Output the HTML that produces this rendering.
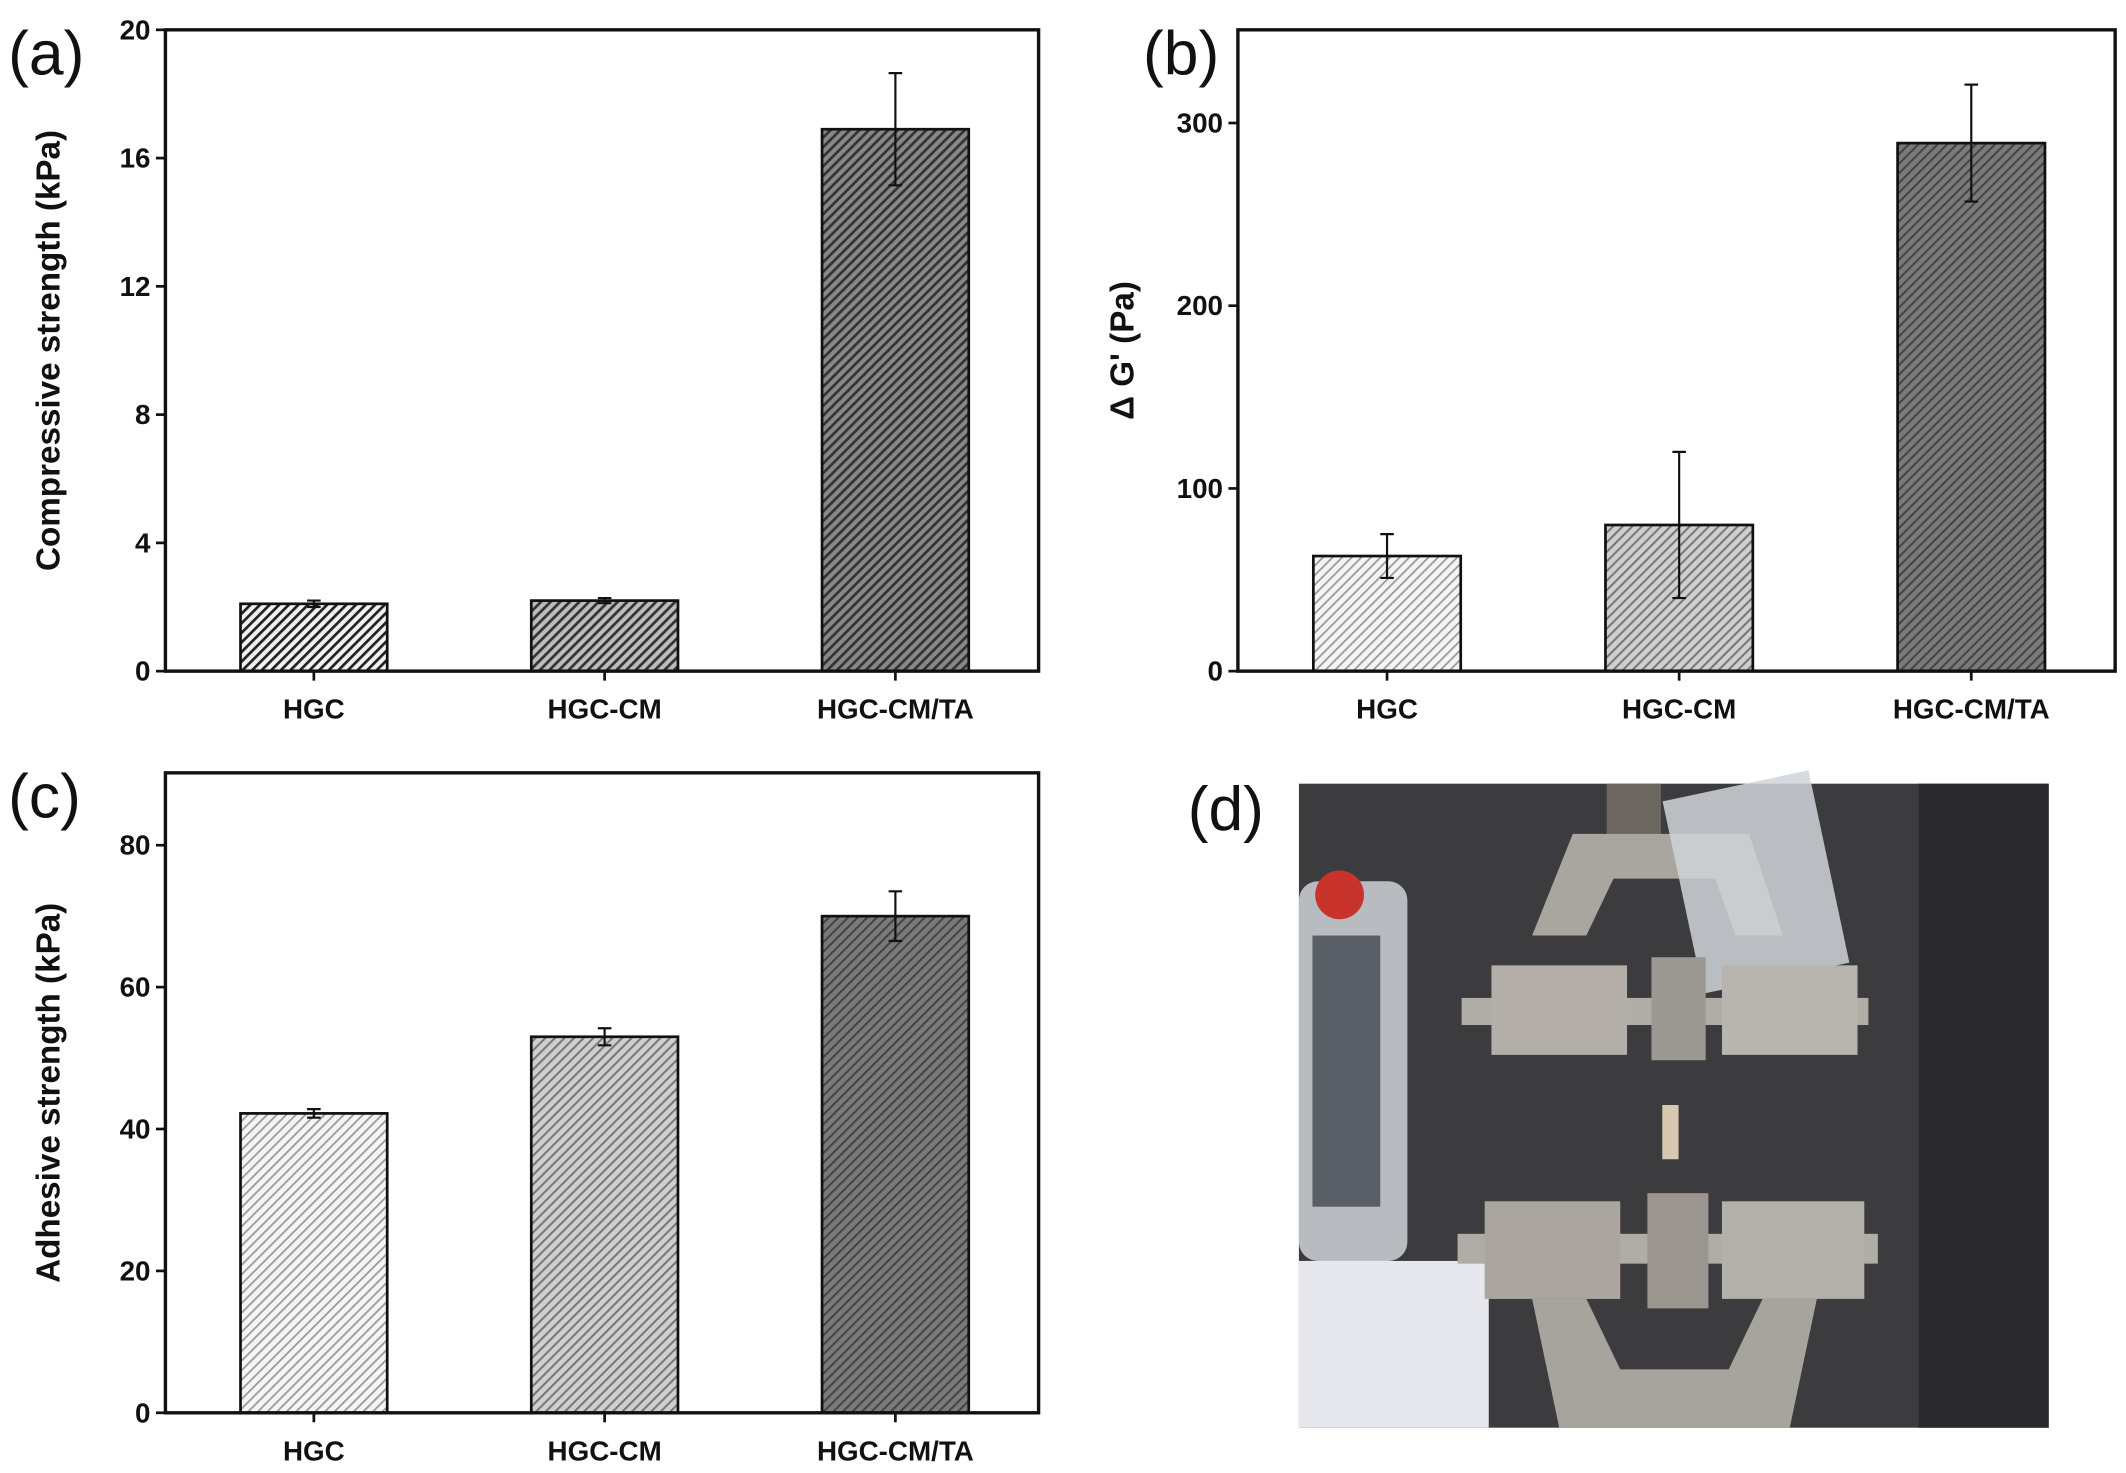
<!DOCTYPE html>
<html><head><meta charset="utf-8"><style>
html,body{margin:0;padding:0;background:#fff}
svg{display:block}
text{font-family:"Liberation Sans",Arial,sans-serif}
.tk{font-size:20.5px;font-weight:bold;fill:#111}
.tt{font-size:24.5px;font-weight:bold;fill:#111}
.pl{font-size:46px;fill:#111}
</style></head><body>
<svg id="fig" width="2126" height="1473" viewBox="0 0 1568 1086.4">
<defs>
<pattern id="hA0" patternUnits="userSpaceOnUse" width="5" height="5" patternTransform="rotate(45)"><rect width="5" height="5" fill="#f2f2f2"/><rect width="2" height="5" fill="#222"/></pattern>
<pattern id="hA1" patternUnits="userSpaceOnUse" width="5" height="5" patternTransform="rotate(45)"><rect width="5" height="5" fill="#bcbcbc"/><rect width="2" height="5" fill="#333"/></pattern>
<pattern id="hA2" patternUnits="userSpaceOnUse" width="5" height="5" patternTransform="rotate(45)"><rect width="5" height="5" fill="#888"/><rect width="2" height="5" fill="#333"/></pattern>
<pattern id="hB0" patternUnits="userSpaceOnUse" width="5" height="5" patternTransform="rotate(45)"><rect width="5" height="5" fill="#f4f4f4"/><rect width="1.3" height="5" fill="#999"/></pattern>
<pattern id="hB1" patternUnits="userSpaceOnUse" width="5" height="5" patternTransform="rotate(45)"><rect width="5" height="5" fill="#cfcfcf"/><rect width="1.5" height="5" fill="#777"/></pattern>
<pattern id="hB2" patternUnits="userSpaceOnUse" width="5" height="5" patternTransform="rotate(45)"><rect width="5" height="5" fill="#7a7a7a"/><rect width="1.5" height="5" fill="#444"/></pattern>
</defs>
<g id="charts"></g>
<g id="photo">
<rect x="958" y="578" width="553" height="475" fill="#3c3c3e"/>
<rect x="1415" y="578" width="96" height="475" fill="#2a2a2c"/>
<rect x="958" y="650" width="80" height="280" rx="14" fill="#b8bcc0"/>
<rect x="968" y="690" width="50" height="200" fill="#5a5e66"/>
<circle cx="988" cy="660" r="18" fill="#c8342c"/>
<rect x="958" y="930" width="140" height="123" fill="#e6e8ee"/>
<rect x="1185" y="578" width="40" height="50" fill="#6b6660"/>
<path d="M1130 690 L1160 615 L1290 615 L1315 690 L1280 690 L1265 648 L1190 648 L1170 690Z" fill="#a9a59f"/>
<rect x="1240" y="578" width="110" height="145" fill="#d0d4d8" opacity="0.85" transform="rotate(-12 1295 650)"/>
<rect x="1078" y="736" width="300" height="20" fill="#b0aca6"/>
<rect x="1100" y="712" width="100" height="66" fill="#b3aea7"/>
<rect x="1270" y="712" width="100" height="66" fill="#b8b4ae"/>
<rect x="1218" y="706" width="40" height="76" fill="#9c9892"/>
<rect x="1226" y="815" width="12" height="40" fill="#d8c8b0"/>
<rect x="1075" y="910" width="310" height="22" fill="#b0aca6"/>
<rect x="1095" y="886" width="100" height="72" fill="#aaa69f"/>
<rect x="1270" y="886" width="105" height="72" fill="#b3afa9"/>
<rect x="1215" y="880" width="45" height="85" fill="#9a968f"/>
<path d="M1130 958 L1170 958 L1195 1010 L1275 1010 L1300 958 L1340 958 L1320 1053 L1150 1053Z" fill="#a7a39d"/>
</g>
</svg>
<script>
const cats=["HGC","HGC-CM","HGC-CM/TA"];
const valsA=[2.1,2.2,16.9];
const errA=[0.1,0.08,1.75];
const ticksA=[0,4,8,12,16,20];
const valsB=[63,80,289];
const errB=[12,40,32];
const ticksB=[0,100,200,300];
const valsC=[42.2,53,70];
const errC=[0.6,1.2,3.5];
const ticksC=[0,20,40,60,80];
const NS="http://www.w3.org/2000/svg";
const root=document.getElementById("charts");
function mk(tag,attrs,parent){const e=document.createElementNS(NS,tag);for(const k in attrs)e.setAttribute(k,attrs[k]);(parent||root).appendChild(e);return e;}
function panel(id,x0,x1,y0,y1,ymax,ticks,vals,errs,fills,title,letter,lx,ly,tx){
  const g=mk("g",{});
  
  
  const ys=v=>y1-(v/ymax)*(y1-y0);
  const w=x1-x0;
  const xc=i=>x0+w*(0.17+0.333*i);
  const bw=w*0.168;
  vals.forEach((v,i)=>{
    const r=mk("rect",{x:xc(i)-bw/2,y:ys(v),width:bw,height:y1-ys(v),fill:"url(#"+fills[i]+")",stroke:"#111","stroke-width":2},g);
    
    
    const e=errs[i],c=xc(i);
    const eb=mk("path",{d:`M${c} ${ys(v+e)}V${ys(v-e)}M${c-5} ${ys(v+e)}H${c+5}M${c-5} ${ys(v-e)}H${c+5}`,stroke:"#111","stroke-width":1.6,fill:"none"},g);
    
    
    mk("line",{x1:c,x2:c,y1:y1,y2:y1+7,stroke:"#111","stroke-width":2},g);
    const t=mk("text",{x:c,y:y1+35,"text-anchor":"middle",class:"tk"},g);
    t.textContent=cats[i];
    
    
  });
  ticks.forEach(t=>{
    mk("line",{x1:x0-7,x2:x0,y1:ys(t),y2:ys(t),stroke:"#111","stroke-width":2},g);
    const tl=mk("text",{x:x0-11,y:ys(t)+7,"text-anchor":"end",class:"tk"},g);
    tl.textContent=t;
    
    
  });
  const f=mk("rect",{x:x0,y:y0,width:w,height:y1-y0,fill:"none",stroke:"#111","stroke-width":2.5},g);
  
  
  const yt=mk("text",{x:tx,y:(y0+y1)/2,"text-anchor":"middle",class:"tt",transform:`rotate(-90 ${tx} ${(y0+y1)/2})`},g);
  yt.textContent=title;
  
  
  const pl=mk("text",{x:lx,y:ly,class:"pl"},g);
  pl.textContent=letter;
  
  
}
panel("a",122,766,22,495,20,ticksA,valsA,errA,["hA0","hA1","hA2"],"Compressive strength (kPa)","(a)",6,55,44);
panel("b",913,1560,22,495,351,ticksB,valsB,errB,["hB0","hB1","hB2"],"\u0394 G' (Pa)","(b)",843,55,836);
panel("c",122,766,570,1042,90.2,ticksC,valsC,errC,["hB0","hB1","hB2"],"Adhesive strength (kPa)","(c)",6,603,44);
const pd=mk("text",{x:876,y:612,class:"pl"},document.getElementById("fig"));
pd.textContent="(d)";


</script>
</body></html>
